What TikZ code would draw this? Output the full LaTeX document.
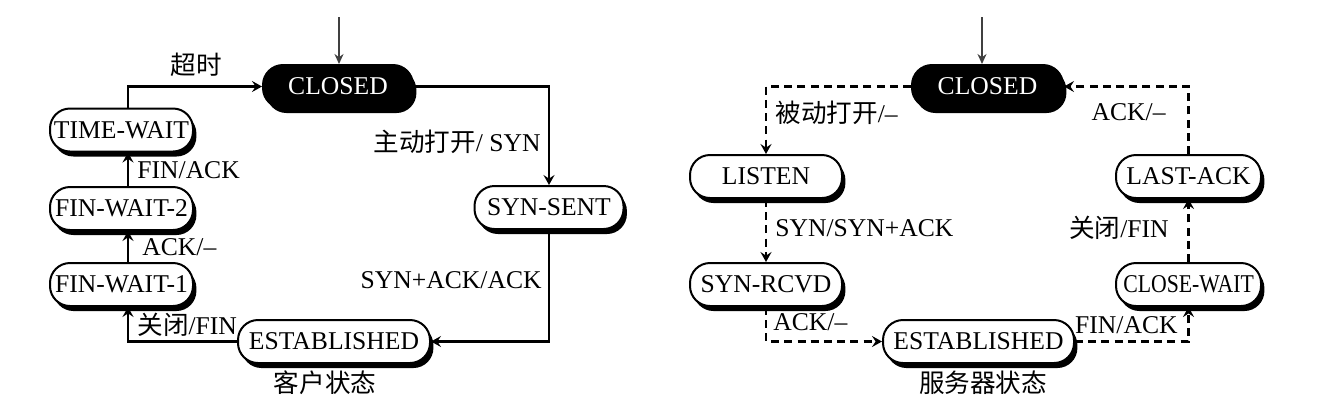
\documentclass[tikz,border=0pt]{standalone}
\usepackage{fontspec}
\usepackage{graphicx}
\setmainfont{Liberation Serif}
\newfontfamily\cjk{Noto Sans CJK SC}
\usetikzlibrary{arrows.meta,shadows}
\begin{document}
\begin{tikzpicture}[x=0.5pt,y=-0.5pt,
  state/.style={draw=black,line width=1pt,fill=white,rounded corners=10pt,
    minimum height=21.5pt,inner xsep=0pt,inner ysep=0pt,
    font=\fontsize{12.8}{14}\selectfont,
    drop shadow={shadow xshift=1.7pt,shadow yshift=-2.5pt,fill=black,opacity=1}},
  closedst/.style={state,fill=black,text=white},
  lab/.style={inner sep=0pt,font=\fontsize{12.8}{14}\selectfont},
  tip/.style={-{Stealth[length=5pt,width=5.5pt,inset=1.8pt]}},
  solidcon/.style={tip,line width=1.2pt,draw=black},
  dashcon/.style={tip,line width=1.2pt,draw=black,dash pattern=on 4pt off 2.6pt},
  initcon/.style={-{Stealth[length=5pt,width=4.5pt,inset=1.6pt]},line width=0.7pt,draw=black!75}
]
\useasboundingbox (0,0) rectangle (1336,404);

% ---------- client side ----------
\node[closedst,minimum width=75pt] (closedL) at (338,86.5) {CLOSED};
\node[state,minimum width=71.5pt] (tw)  at (121.5,130)   {TIME-WAIT};
\node[state,minimum width=71.5pt] (fw2) at (121.5,208.5) {FIN-WAIT-2};
\node[state,minimum width=71.5pt] (fw1) at (121.5,284.5) {FIN-WAIT-1};
\node[state,minimum width=96pt]   (estL) at (334,341.5)  {ESTABLISHED};
\node[state,minimum width=74.5pt] (synsent) at (549,207.5) {SYN-SENT};

\coordinate (initL) at (339,17);
\draw[initcon] (initL) -- (initL |- closedL.north);

\draw[solidcon] (closedL.east) -| (synsent.north);
\draw[solidcon] (synsent.south) |- (estL.east);
\draw[solidcon] (estL.west) -| ([xshift=3.25pt]fw1.south);
\draw[solidcon] ([xshift=3.25pt]fw1.north) -- ([xshift=3.25pt]fw2.south);
\draw[solidcon] ([xshift=3.25pt]fw2.north) -- ([xshift=3.25pt]tw.south);
\draw[solidcon] ([xshift=3.25pt]tw.north) |- (closedL.west);

\node[lab] (lto) at (196,65) {\cjk 超时};
\node[lab,anchor=east] (lopen) at (541,142) {{\cjk 主动打开}/ SYN};
\node[lab,anchor=east] (lsynack) at (542,280) {SYN+ACK/ACK};
\node[lab,anchor=west] (lfinack) at (137,170) {FIN/ACK};
\node[lab,anchor=west] (lack) at (142,247) {ACK/–};
\node[lab,anchor=west] (lclose) at (137,325) {{\cjk 关闭}/FIN};
\node[lab] (lclient) at (325,383) {\cjk 客户状态};

% ---------- server side ----------
\node[closedst,minimum width=75.5pt] (closedR) at (987.5,86.5) {CLOSED};
\node[state,minimum width=76pt] (listen) at (766,176.5) {LISTEN};
\node[state,minimum width=76pt] (rcvd) at (766,284.5) {SYN-RCVD};
\node[state,minimum width=72.5pt] (lastack) at (1188.5,176.5) {LAST-ACK};
\node[state,minimum width=72.5pt] (cwait) at (1188.5,284.5) {\scalebox{0.85}[1]{CLOSE-WAIT}};
\node[state,minimum width=95.5pt] (estR) at (978.5,341.5) {ESTABLISHED};

\coordinate (initR) at (982,17);
\draw[initcon] (initR) -- (initR |- closedR.north);

\draw[dashcon] (closedR.west) -| (listen.north);
\draw[dashcon] (listen.south) -- (rcvd.north);
\draw[dashcon] (rcvd.south) |- (estR.west);
\draw[dashcon] (estR.east) -| (cwait.south);
\draw[dashcon] (cwait.north) -- (lastack.south);
\draw[dashcon] (lastack.north) |- (closedR.east);

\node[lab,anchor=west] (lpassive) at (775,113) {{\cjk 被动打开}/–};
\node[lab,anchor=west] (lsyn) at (775,228) {SYN/SYN+ACK};
\node[lab,anchor=west] (lack2) at (773,322) {ACK/–};
\node[lab,anchor=east] (lack3) at (1166,112) {ACK/–};
\node[lab,anchor=east] (lclose2) at (1169,228) {{\cjk 关闭}/FIN};
\node[lab,anchor=east] (lfin2) at (1178,325) {FIN/ACK};
\node[lab] (lserver) at (983,383) {\cjk 服务器状态};
\end{tikzpicture}
\end{document}
